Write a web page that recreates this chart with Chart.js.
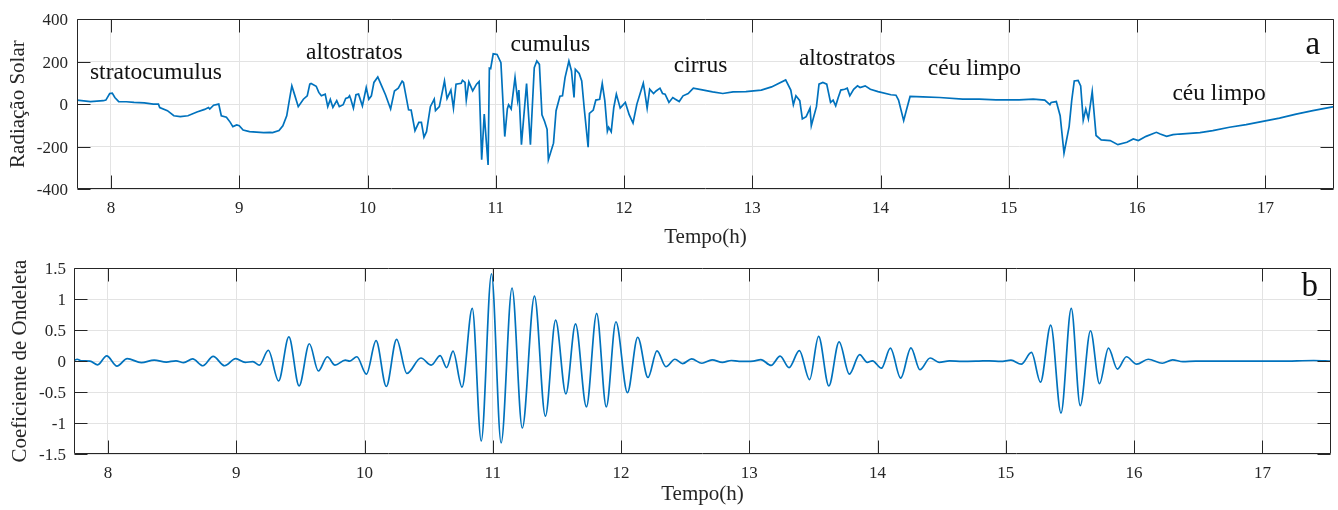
<!DOCTYPE html>
<html lang="pt">
<head>
<meta charset="utf-8">
<title>Radiação Solar e Coeficiente de Ondeleta</title>
<script src="https://cdn.jsdelivr.net/npm/chart.js@4.4.0/dist/chart.umd.min.js"></script>
<style>
  html, body { margin: 0; padding: 0; background: #fff; }
  #wrap { position: relative; width: 1338px; height: 510px; }
  canvas { position: absolute; left: 0; }
  #graficoA { top: 0; }
  #graficoB { top: 250px; }
</style>
</head>
<body>
<div id="wrap">
  <canvas id="graficoA" width="1338" height="250"></canvas>
  <canvas id="graficoB" width="1338" height="260"></canvas>
</div>
<script>
// Eixo do tempo (h), comum aos dois paineis
const tempoMin = 7.735;
const tempoMax = 17.535;
const ticksTempo = [8, 9, 10, 11, 12, 13, 14, 15, 16, 17];

// Painel a: radiacao solar
const tempoA = [
  7.735, 7.84, 7.94, 7.96, 7.99, 8.01, 8.03, 8.06, 8.12, 8.18,
  8.26, 8.33, 8.37, 8.38, 8.44, 8.49, 8.54, 8.60, 8.67, 8.73,
  8.76, 8.77, 8.80, 8.84, 8.86, 8.90, 8.93, 8.95, 8.98, 9.00,
  9.03, 9.08, 9.19, 9.24, 9.26, 9.31, 9.34, 9.37, 9.39, 9.41,
  9.43, 9.46, 9.50, 9.53, 9.55, 9.56, 9.60, 9.62, 9.64, 9.67,
  9.69, 9.71, 9.73, 9.76, 9.78, 9.81, 9.83, 9.85, 9.86, 9.87,
  9.89, 9.91, 9.93, 9.96, 9.99, 10.01, 10.03, 10.05, 10.08, 10.11,
  10.14, 10.18, 10.21, 10.24, 10.27, 10.28, 10.32, 10.34, 10.37, 10.40,
  10.42, 10.44, 10.46, 10.49, 10.52, 10.53, 10.56, 10.60, 10.62, 10.65,
  10.67, 10.69, 10.73, 10.74, 10.76, 10.77, 10.79, 10.82, 10.85, 10.87,
  10.89, 10.91, 10.94, 10.95, 10.96, 10.98, 11.01, 11.04, 11.07, 11.09,
  11.10, 11.12, 11.15, 11.17, 11.18, 11.20, 11.24, 11.27, 11.30, 11.32,
  11.34, 11.36, 11.38, 11.40, 11.41, 11.45, 11.47, 11.50, 11.52, 11.54,
  11.57, 11.59, 11.61, 11.62, 11.65, 11.67, 11.69, 11.72, 11.73, 11.76,
  11.78, 11.81, 11.83, 11.85, 11.87, 11.88, 11.90, 11.92, 11.94, 11.97,
  12.01, 12.04, 12.07, 12.10, 12.15, 12.16, 12.18, 12.20, 12.23, 12.25,
  12.28, 12.30, 12.32, 12.35, 12.38, 12.40, 12.43, 12.46, 12.50, 12.54,
  12.62, 12.69, 12.77, 12.85, 12.95, 13.07, 13.15, 13.26, 13.30, 13.32,
  13.34, 13.37, 13.39, 13.42, 13.45, 13.46, 13.50, 13.52, 13.55, 13.58,
  13.61, 13.63, 13.65, 13.67, 13.69, 13.72, 13.74, 13.76, 13.79, 13.82,
  13.84, 13.88, 13.92, 13.98, 14.08, 14.12, 14.14, 14.18, 14.20, 14.23,
  14.33, 14.46, 14.64, 14.77, 14.90, 15.08, 15.19, 15.28, 15.32, 15.33,
  15.37, 15.40, 15.43, 15.47, 15.49, 15.51, 15.54, 15.56, 15.58, 15.60,
  15.62, 15.65, 15.68, 15.72, 15.79, 15.85, 15.92, 15.97, 16.01, 16.07,
  16.15, 16.18, 16.23, 16.28, 16.33, 16.49, 16.59, 16.72, 16.85, 16.98,
  17.11, 17.24, 17.37, 17.535
];
const radiacao = [
  19, 12, 16, 19, 50, 52, 31, 12, 11, 8,
  6, 0, 0, -16, -31, -55, -59, -55, -37, -25,
  -16, -23, -5, 0, -55, -62, -86, -106, -98, -102,
  -122, -130, -134, -133, -134, -125, -102, -55, 16, 86,
  47, -12, 23, 39, 94, 97, 84, 55, 39, 47,
  -12, 22, -16, 16, -12, -3, 27, 31, 39, 23,
  -19, 44, 47, -9, 78, 23, 39, 102, 128, 86,
  44, -23, 62, 75, 108, 102, -27, -28, -125, -86,
  -86, -156, -130, -12, 23, -31, -12, 109, 26, 66,
  -19, 94, 98, 112, 102, 19, 105, 62, 94, 106,
  -262, -47, -287, 169, 167, 237, 234, 195, -153, -23,
  -3, -23, 125, 19, 66, -191, 97, -191, 172, 203,
  187, -50, -81, -119, -262, -184, -31, 37, 39, 125,
  203, 156, 31, 164, 144, 109, -23, -203, -44, -28,
  19, 23, 97, 16, -128, -109, -130, -16, 47, -19,
  8, -50, -89, 0, 98, 62, -19, 70, 50, 62,
  75, 50, 47, 8, 31, 23, 12, 39, 50, 75,
  66, 58, 50, 58, 59, 66, 81, 114, 66, -3,
  39, 16, -70, -59, -19, -102, -12, 94, 102, 94,
  8, 19, -8, 31, 66, 70, 75, 39, 70, 86,
  78, 86, 70, 59, 44, 42, 19, -78, -31, 36,
  34, 31, 23, 23, 20, 20, 23, 19, -3, 8,
  12, -55, -231, -106, 16, 109, 112, 86, -75, -23,
  -70, 59, -148, -169, -172, -191, -180, -164, -172, -152,
  -133, -141, -152, -144, -141, -134, -125, -109, -97, -81,
  -66, -47, -31, -12
];
const ticksRadiacao = [-400, -200, 0, 200, 400];

// Painel b: coeficiente de ondeleta (picos e vales)
const tempoB = [
  7.735, 7.76, 7.79, 7.86, 7.92, 7.99, 8.07, 8.15, 8.26, 8.36,
  8.455, 8.53, 8.59, 8.66, 8.74, 8.82, 8.91, 8.995, 9.07, 9.13,
  9.18, 9.25, 9.33, 9.41, 9.49, 9.57, 9.64, 9.71, 9.77, 9.85,
  9.885, 9.94, 10.015, 10.09, 10.17, 10.25, 10.33, 10.44, 10.52, 10.59,
  10.64, 10.69, 10.76, 10.84, 10.91, 10.99, 11.065, 11.15, 11.23, 11.325,
  11.41, 11.49, 11.57, 11.645, 11.73, 11.81, 11.885, 11.96, 12.05, 12.13,
  12.21, 12.28, 12.35, 12.42, 12.48, 12.55, 12.63, 12.71, 12.79, 12.86,
  12.92, 13.03, 13.09, 13.17, 13.24, 13.31, 13.39, 13.47, 13.54, 13.62,
  13.70, 13.78, 13.86, 13.92, 13.96, 14.03, 14.10, 14.18, 14.26, 14.33,
  14.41, 14.48, 14.56, 14.66, 14.79, 14.87, 14.96, 15.04, 15.12, 15.20,
  15.27, 15.35, 15.43, 15.51, 15.58, 15.66, 15.73, 15.80, 15.87, 15.94,
  16.02, 16.11, 16.22, 16.30, 16.38, 16.48, 16.61, 16.87, 17.14, 17.40,
  17.535
];
const coeficiente = [
  0.01, 0.03, 0.005, 0, -0.06, 0.085, -0.08, 0.04, -0.025, 0.015,
  -0.015, 0.005, -0.025, 0.035, -0.075, 0.075, -0.075, 0.04, -0.02, -0.01,
  -0.065, 0.175, -0.32, 0.39, -0.40, 0.28, -0.16, 0.07, -0.065, 0.015,
  0, 0.07, -0.21, 0.33, -0.41, 0.35, -0.20, 0.05, -0.065, 0.09,
  -0.105, 0.16, -0.42, 0.85, -1.29, 1.41, -1.32, 1.18, -1.08, 1.05,
  -0.89, 0.66, -0.53, 0.60, -0.74, 0.77, -0.74, 0.635, -0.51, 0.385,
  -0.265, 0.165, -0.09, 0.03, -0.04, 0.035, -0.035, 0.02, -0.02, 0.01,
  -0.005, 0, 0.025, -0.07, 0.08, -0.105, 0.17, -0.30, 0.40, -0.40,
  0.31, -0.21, 0.105, -0.02, 0.005, -0.115, 0.21, -0.275, 0.215, -0.14,
  0.05, -0.02, 0.005, -0.005, 0, 0.005, -0.005, 0.015, -0.05, 0.14,
  -0.34, 0.58, -0.84, 0.85, -0.72, 0.49, -0.365, 0.21, -0.13, 0.07,
  -0.05, 0.03, -0.035, 0.02, -0.01, 0, 0, 0, 0, 0.01,
  0
];
const ticksCoeficiente = [-1.5, -1, -0.5, 0, 0.5, 1, 1.5];

// Rotulos das nuvens: texto, tempo (inicio do texto) e valor (linha de base)
const nuvens = ['stratocumulus', 'altostratos', 'cumulus', 'cirrus', 'altostratos', 'céu limpo', 'céu limpo'];
const nuvensTempo = [7.836, 9.52, 11.115, 12.388, 13.363, 14.368, 16.275];
const nuvensValor = [120, 212, 250, 149, 185, 138, 17];

const FONTE = '"Liberation Serif", "Times New Roman", serif';
const COR_TEXTO = '#262626';
const AZUL = '#0072BD';

// Moldura estilo MATLAB: caixa fechada, ticks para dentro e textos
const moldura = {
  id: 'moldura',
  afterDatasetsDraw(chart, args, opts) {
    const { ctx, chartArea: a, scales: { x, y } } = chart;
    const L = Math.round(a.left) + 0.5, R = Math.round(a.right) - 0.5;
    const T = Math.round(a.top) + 0.5, B = Math.round(a.bottom) - 0.5;
    const tam = 13;
    ctx.save();
    ctx.strokeStyle = COR_TEXTO;
    ctx.lineWidth = 1;
    ctx.beginPath();
    x.ticks.forEach(t => {
      const px = Math.round(x.getPixelForValue(t.value)) + 0.5;
      ctx.moveTo(px, B); ctx.lineTo(px, B - tam);
      ctx.moveTo(px, T); ctx.lineTo(px, T + tam);
    });
    y.ticks.forEach(t => {
      const py = Math.round(y.getPixelForValue(t.value)) + 0.5;
      ctx.moveTo(L, py); ctx.lineTo(L + tam, py);
      ctx.moveTo(R, py); ctx.lineTo(R - tam, py);
    });
    ctx.rect(L, T, R - L, B - T);
    ctx.stroke();

    ctx.fillStyle = '#111';
    ctx.textBaseline = 'alphabetic';
    (opts.textos || []).forEach(item => {
      ctx.font = item.tamanho + 'px ' + FONTE;
      ctx.textAlign = item.alinhar || 'left';
      ctx.fillText(item.texto, x.getPixelForValue(item.t), y.getPixelForValue(item.v));
    });
    ctx.restore();
  }
};

function criarGrafico(id, tempos, valores, cfg) {
  const pontos = tempos.map((t, i) => ({ x: t, y: valores[i] }));
  return new Chart(document.getElementById(id), {
    type: 'line',
    data: {
      datasets: [{
        data: pontos,
        borderColor: AZUL,
        borderWidth: 1.7,
        pointRadius: 0,
        fill: false,
        tension: 0,
        cubicInterpolationMode: cfg.suave ? 'monotone' : 'default'
      }]
    },
    options: {
      responsive: false,
      animation: false,
      devicePixelRatio: 1,
      layout: { padding: { top: cfg.topo, right: cfg.direita, left: 0, bottom: 0 } },
      plugins: {
        legend: { display: false },
        tooltip: { enabled: false },
        moldura: { textos: cfg.textos }
      },
      scales: {
        x: {
          type: 'linear',
          min: tempoMin,
          max: tempoMax,
          afterBuildTicks: s => { s.ticks = ticksTempo.map(v => ({ value: v })); },
          afterFit: s => { s.height = cfg.alturaX; },
          border: { display: false },
          grid: { color: '#e3e3e3', lineWidth: 1, drawTicks: false },
          ticks: {
            font: { family: FONTE, size: 17 }, color: COR_TEXTO, padding: 9, maxRotation: 0,
            callback: v => String(v)
          },
          title: {
            display: true, text: 'Tempo(h)', color: COR_TEXTO,
            font: { family: FONTE, size: 21 }, padding: { top: 0, bottom: cfg.tituloX }
          }
        },
        y: {
          min: cfg.yTicks[0],
          max: cfg.yTicks[cfg.yTicks.length - 1],
          afterBuildTicks: s => { s.ticks = cfg.yTicks.map(v => ({ value: v })); },
          afterFit: s => { s.width = cfg.larguraY; },
          border: { display: false },
          grid: { color: '#e3e3e3', lineWidth: 1, drawTicks: false },
          ticks: {
            font: { family: FONTE, size: 17 }, color: COR_TEXTO, padding: cfg.padY, labelOffset: 1.5,
            callback: v => String(v)
          },
          title: {
            display: true, text: cfg.tituloY, color: COR_TEXTO,
            font: { family: FONTE, size: 21 }, padding: { top: cfg.tituloYpad, bottom: 0 }
          }
        }
      }
    },
    plugins: [moldura]
  });
}

document.addEventListener('DOMContentLoaded', function () {
  // Textos do painel a
  const textosA = nuvens.map((n, i) => ({ texto: n, t: nuvensTempo[i], v: nuvensValor[i], tamanho: 23.5 }));
  textosA.push({ texto: 'a', t: 17.37, v: 236, tamanho: 33, alinhar: 'center' });

  criarGrafico('graficoA', tempoA, radiacao, {
    topo: 18, direita: 4, alturaX: 61, larguraY: 77, padY: 9,
    tituloX: 0, tituloY: 'Radiação Solar', tituloYpad: 6,
    yTicks: ticksRadiacao, textos: textosA, suave: false
  });

  criarGrafico('graficoB', tempoB, coeficiente, {
    topo: 15, direita: 7, alturaX: 56, larguraY: 74, padY: 8,
    tituloX: 3, tituloY: 'Coeficiente de Ondeleta', tituloYpad: 8,
    yTicks: ticksCoeficiente, suave: true,
    textos: [{ texto: 'b', t: 17.37, v: 1.05, tamanho: 33, alinhar: 'center' }]
  });
});
</script>
</body>
</html>
